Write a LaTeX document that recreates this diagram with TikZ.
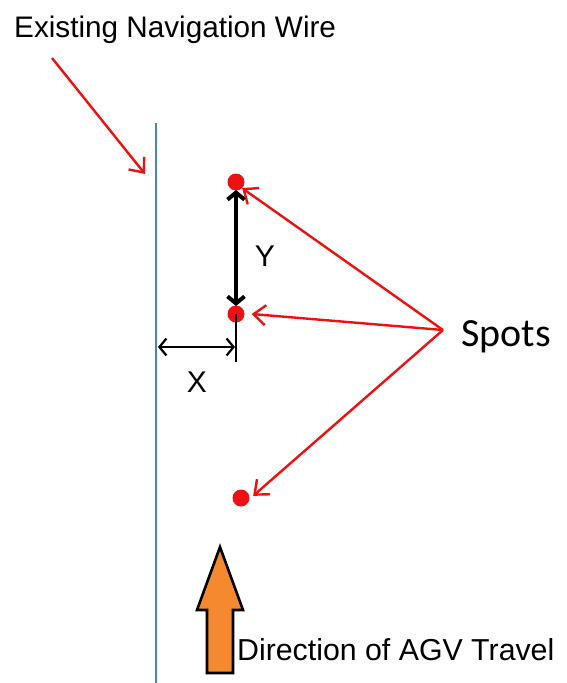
\documentclass[tikz,border=0pt]{standalone}
\usepackage{fontspec}
\setmainfont{Liberation Sans}
\newfontfamily\spotsfont{Carlito}
\usetikzlibrary{arrows.meta}
\definecolor{wire}{HTML}{4F81BD}
\definecolor{spot}{HTML}{EE1111}
\definecolor{travel}{HTML}{F5892F}

\begin{document}
\begin{tikzpicture}[x=1pt, y=-1pt,
    dot/.style={circle, fill=spot, inner sep=0pt, minimum size=17pt},
    lbl/.style={inner sep=0pt, anchor=base west},
    pointer/.style={draw=spot, line width=2.4pt, -{Straight Barb[length=12pt, width=20pt]}},
    dim/.style={draw=black, {Straight Barb[length=7pt, width=17pt]}-{Straight Barb[length=7pt, width=17pt]}}]

    \useasboundingbox (0,0) rectangle (566,683);

    % labels
    \node[lbl, font=\fontsize{29.7}{32}\selectfont] (wiretxt) at (14,37) {Existing Navigation Wire};
    \node[lbl, font=\spotsfont\fontsize{40}{44}\selectfont] (spots) at (461,346) {Spots};
    \node[lbl, font=\fontsize{30.3}{32}\selectfont] (dirtxt) at (237,660) {Direction of AGV Travel};
    \node[font=\fontsize{30}{32}\selectfont, inner sep=0pt] (xl) at (197,382) {X};
    \node[font=\fontsize{30}{32}\selectfont, inner sep=0pt] (yl) at (265,256) {Y};

    % wire
    \coordinate (wtop) at (156,123);
    \coordinate (wbot) at (156,683);
    \draw[wire, line width=2.4pt] (wtop) -- (wbot);
    \coordinate (wa) at (52,58);
    \coordinate (wb) at (145,174);
    \draw[pointer] (wa) -- (wb);

    % spots
    \node[dot] (s1) at (236,182) {};
    \node[dot] (s2) at (236,314) {};
    \node[dot] (s3) at (241,498) {};
    \coordinate (hub) at (443,330);
    \draw[pointer] (hub) -- (s1.south east);
    \draw[pointer] (hub) -- ([xshift=7pt]s2.east);
    \draw[pointer] (hub) -- ([xshift=6pt, yshift=-4pt]s3.north east);

    % Y distance
    \coordinate (ya) at (236,190);
    \coordinate (yb) at (236,306);
    \draw[dim, line width=4pt] (ya) -- (yb);

    % X distance
    \coordinate (xt) at (236,362);
    \draw[line width=1.2pt] (s2.center) -- (xt);
    \coordinate (xa) at (158,347);
    \coordinate (xb) at (235,347);
    \draw[dim, line width=2.2pt] (xa) -- (xb);

    % travel arrow
    \draw[fill=travel, line width=2.6pt, line join=miter]
      (220,547) -- (243,610) -- (233,610) -- (233,673) -- (207,673) -- (207,610) -- (197,610) -- cycle;
  \end{tikzpicture}
\end{document}
